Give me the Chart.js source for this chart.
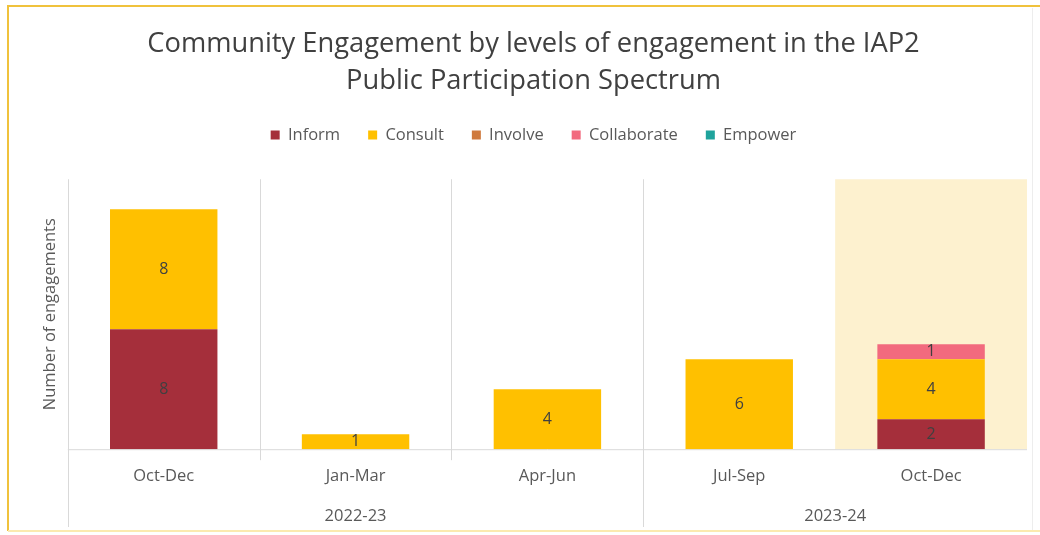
<!DOCTYPE html>
<html>
<head>
<meta charset="utf-8">
<script src="https://cdn.jsdelivr.net/npm/chart.js@4"></script>
<style>
  html, body { margin: 0; padding: 0; background: #ffffff; }
  #chart { display: block; }
</style>
</head>
<body>
<canvas id="chart" width="1040" height="535"></canvas>
<script>
// Quarters on the x axis, grouped by financial year
const quarters = ['Oct-Dec', 'Jan-Mar', 'Apr-Jun', 'Jul-Sep', 'Oct-Dec'];
const yearGroups = ['2022-23', '2023-24'];
const groupSizes = [3, 2];

// Engagements per level of the spectrum
const inform = [8, 0, 0, 0, 2];
const consult = [8, 1, 4, 6, 4];
const involve = [0, 0, 0, 0, 0];
const collaborate = [0, 0, 0, 0, 1];
const empower = [0, 0, 0, 0, 0];

const highlightIndex = 4; // current quarter gets the shaded background

const COLORS = {
  inform: '#A52F3B',
  consult: '#FFC000',
  involve: '#CF7A3E',
  collaborate: '#F26A7E',
  empower: '#1FA39C',
  highlight: '#FDF1CF',
  grid: '#D9D9D9',
  text: '#595959',
  title: '#404040',
  frame: '#F0C23C',
};

const FONT = '"Open Sans", Lato, sans-serif';
const LABEL_SIZE = 16.5;

// extra room under the legend before the plot starts
const legendGap = {
  id: 'legendGap',
  beforeInit(chart) {
    const fit = chart.legend.fit;
    chart.legend.fit = function () {
      fit.call(this);
      this.height += 26;
    };
  },
};

// shading, separators, group labels, values in the bars, frame
const decorations = {
  id: 'decorations',
  beforeDatasetsDraw(chart) {
    const { ctx, chartArea } = chart;
    const x = chart.scales.x;
    const step = x.width / quarters.length;

    // shaded current quarter
    const hx = x.getPixelForValue(highlightIndex) - step / 2;
    ctx.save();
    ctx.fillStyle = COLORS.highlight;
    ctx.fillRect(hx, chartArea.top, step, chartArea.bottom - chartArea.top);

    // vertical separators
    ctx.strokeStyle = COLORS.grid;
    ctx.lineWidth = 1;
    const groupEnds = [];
    let acc = 0;
    groupSizes.forEach(n => { acc += n; groupEnds.push(acc); });
    const lines = [{ i: 0, long: true }];
    for (let i = 1; i < quarters.length; i++) {
      if (i === highlightIndex) continue;
      lines.push({ i, long: groupEnds.includes(i) });
    }
    lines.forEach(l => {
      const px = Math.round(x.getPixelForValue(l.i) - step / 2) + 0.5;
      ctx.beginPath();
      ctx.moveTo(px, chartArea.top);
      ctx.lineTo(px, l.long ? 527 : chartArea.bottom + 11);
      ctx.stroke();
    });

    // baseline
    ctx.beginPath();
    ctx.moveTo(chartArea.left, chartArea.bottom + 0.5);
    ctx.lineTo(chartArea.right, chartArea.bottom + 0.5);
    ctx.stroke();

    // financial year labels
    ctx.fillStyle = COLORS.text;
    ctx.font = LABEL_SIZE + 'px ' + FONT;
    ctx.textAlign = 'center';
    ctx.textBaseline = 'middle';
    let start = 0;
    yearGroups.forEach((g, gi) => {
      const end = start + groupSizes[gi] - 1;
      const cx = (x.getPixelForValue(start) + x.getPixelForValue(end)) / 2;
      ctx.fillText(g, cx, 516);
      start += groupSizes[gi];
    });
    ctx.restore();
  },
  afterDatasetsDraw(chart) {
    const { ctx } = chart;
    ctx.save();
    ctx.font = '16px ' + FONT;
    ctx.fillStyle = COLORS.title;
    ctx.textAlign = 'center';
    ctx.textBaseline = 'middle';
    chart.data.datasets.forEach((ds, di) => {
      const meta = chart.getDatasetMeta(di);
      meta.data.forEach((bar, i) => {
        const v = ds.data[i];
        if (!v) return;
        ctx.fillText(String(v), bar.x, (bar.y + bar.base) / 2);
      });
    });
    ctx.restore();
  },
  afterDraw(chart) {
    const { ctx } = chart;
    ctx.save();
    ctx.lineWidth = 2;
    ctx.strokeStyle = COLORS.frame;
    ctx.beginPath();
    ctx.moveTo(8, 531);
    ctx.lineTo(8, 6);
    ctx.lineTo(1040, 6);
    ctx.stroke();
    ctx.strokeStyle = '#FBEAB0';
    ctx.beginPath();
    ctx.moveTo(8, 531);
    ctx.lineTo(1040, 531);
    ctx.stroke();
    ctx.lineWidth = 1;
    ctx.strokeStyle = '#EDEDED';
    ctx.beginPath();
    ctx.moveTo(1032.5, 8);
    ctx.lineTo(1032.5, 530);
    ctx.stroke();
    ctx.restore();
  },
};

function series(label, data, color) {
  return {
    label: label,
    data: data,
    backgroundColor: color,
    borderWidth: 0,
    barPercentage: 1,
    categoryPercentage: 0.56,
  };
}

new Chart(document.getElementById('chart'), {
  type: 'bar',
  data: {
    labels: quarters,
    datasets: [
      series('Inform', inform, COLORS.inform),
      series('Consult', consult, COLORS.consult),
      series('Involve', involve, COLORS.involve),
      series('Collaborate', collaborate, COLORS.collaborate),
      series('Empower', empower, COLORS.empower),
    ],
  },
  options: {
    responsive: false,
    animation: false,
    layout: { padding: { left: 40, right: 13, top: 0, bottom: 32 } },
    plugins: {
      title: {
        display: true,
        text: [
          'Community Engagement by levels of engagement in the IAP2',
          'Public Participation Spectrum',
        ],
        color: COLORS.title,
        font: { family: FONT, size: 27.3, weight: 'normal', lineHeight: 37 / 27.3 },
        padding: { top: 26, bottom: -1.25 },
      },
      legend: {
        display: true,
        labels: {
          color: COLORS.text,
          font: { family: FONT, size: LABEL_SIZE },
          boxWidth: 9,
          boxHeight: 9,
          padding: 28,
        },
      },
      tooltip: { enabled: false },
    },
    scales: {
      x: {
        stacked: true,
        grid: { display: false, drawTicks: false },
        border: { display: false },
        ticks: { color: COLORS.text, font: { family: FONT, size: LABEL_SIZE }, padding: 17 },
      },
      y: {
        stacked: true,
        min: 0,
        max: 18,
        grid: { display: false, drawTicks: false },
        border: { display: false },
        ticks: { display: false },
        title: {
          display: true,
          text: 'Number of engagements',
          color: COLORS.text,
          font: { family: FONT, size: LABEL_SIZE },
          padding: { top: 0, bottom: 8 },
        },
      },
    },
  },
  plugins: [legendGap, decorations],
});
</script>
</body>
</html>
